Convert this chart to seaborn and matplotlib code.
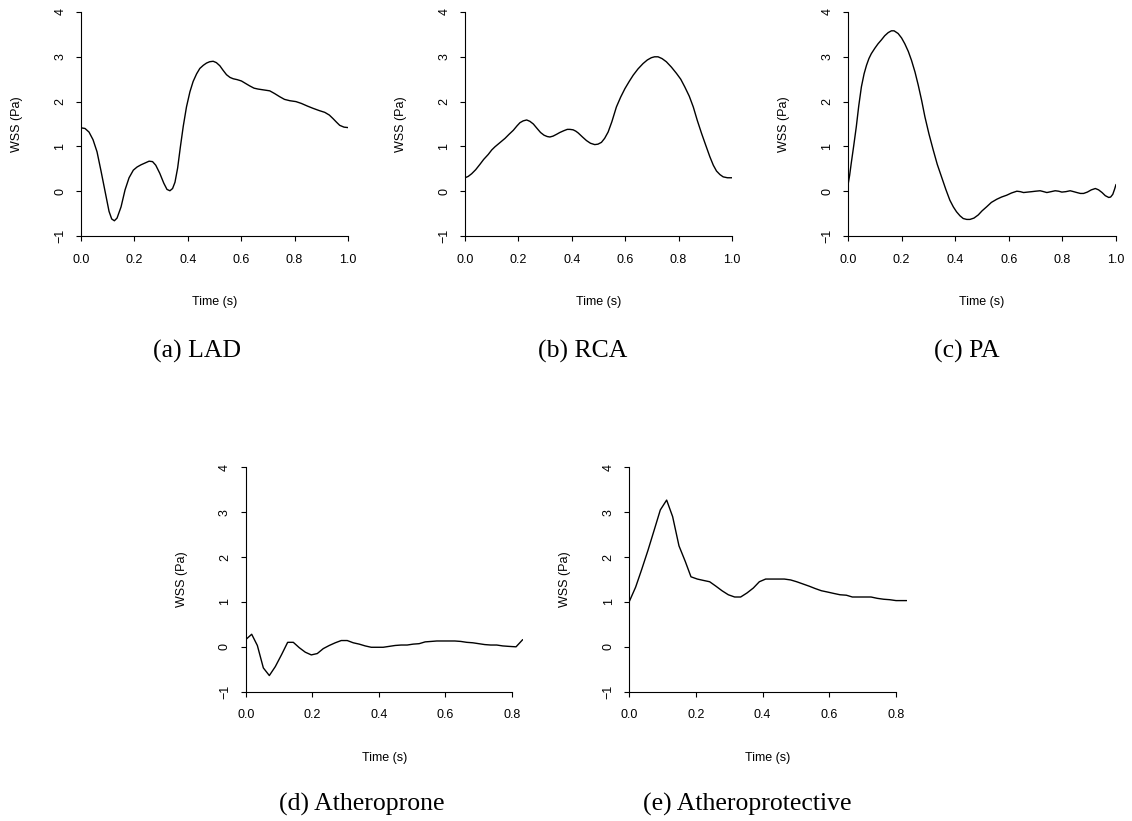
import matplotlib
matplotlib.use("Agg")
import matplotlib.pyplot as plt
import seaborn as sns
import pandas as pd

# Wall shear stress waveforms (time in s, WSS in Pa)
lad_t = [0.0, 0.015, 0.030, 0.045, 0.060, 0.075, 0.090, 0.105, 0.115, 0.125, 0.135,
         0.150, 0.165, 0.180, 0.196, 0.210, 0.225, 0.240, 0.255, 0.268, 0.280, 0.295,
         0.310, 0.322, 0.333, 0.343, 0.352, 0.362, 0.372, 0.383, 0.395, 0.408, 0.420,
         0.433, 0.445, 0.458, 0.470, 0.482, 0.495, 0.507, 0.520, 0.532, 0.545, 0.558,
         0.570, 0.585, 0.601, 0.615, 0.632, 0.648, 0.663, 0.685, 0.707, 0.725, 0.744,
         0.762, 0.782, 0.805, 0.825, 0.848, 0.869, 0.892, 0.913, 0.930, 0.944, 0.957,
         0.969, 0.985, 1.0]
lad_wss = [1.415, 1.40, 1.32, 1.15, 0.88, 0.45, 0.00, -0.45, -0.62, -0.66, -0.60,
           -0.35, 0.03, 0.30, 0.47, 0.54, 0.59, 0.63, 0.67, 0.66, 0.58, 0.40,
           0.18, 0.04, 0.01, 0.06, 0.20, 0.52, 0.98, 1.45, 1.88, 2.22, 2.45,
           2.62, 2.74, 2.81, 2.86, 2.89, 2.90, 2.87, 2.80, 2.70, 2.60, 2.54,
           2.51, 2.49, 2.46, 2.41, 2.35, 2.30, 2.28, 2.26, 2.24, 2.18, 2.11,
           2.05, 2.02, 2.00, 1.96, 1.90, 1.85, 1.80, 1.76, 1.70, 1.62, 1.54,
           1.47, 1.43, 1.42]

rca_t = [0.0, 0.012, 0.025, 0.040, 0.056, 0.070, 0.087, 0.100, 0.112, 0.130, 0.150,
         0.165, 0.181, 0.195, 0.206, 0.218, 0.231, 0.243, 0.256, 0.270, 0.283, 0.296,
         0.308, 0.318, 0.330, 0.343, 0.355, 0.370, 0.383, 0.393, 0.405, 0.415, 0.424,
         0.440, 0.455, 0.470, 0.486, 0.498, 0.511, 0.523, 0.536, 0.550, 0.567, 0.583,
         0.599, 0.615, 0.630, 0.648, 0.667, 0.683, 0.698, 0.710, 0.723, 0.738, 0.754,
         0.773, 0.792, 0.808, 0.823, 0.840, 0.855, 0.870, 0.886, 0.902, 0.917, 0.930,
         0.942, 0.955, 0.967, 0.983, 1.0]
rca_wss = [0.30, 0.33, 0.39, 0.48, 0.60, 0.71, 0.82, 0.92, 0.99, 1.08, 1.18,
           1.27, 1.36, 1.46, 1.53, 1.57, 1.59, 1.56, 1.50, 1.40, 1.31, 1.25,
           1.22, 1.21, 1.23, 1.27, 1.31, 1.35, 1.38, 1.38, 1.37, 1.34, 1.30,
           1.21, 1.13, 1.07, 1.04, 1.05, 1.09, 1.18, 1.32, 1.55, 1.88, 2.10,
           2.29, 2.45, 2.59, 2.73, 2.85, 2.93, 2.98, 3.00, 3.00, 2.96, 2.89,
           2.77, 2.63, 2.50, 2.33, 2.12, 1.88, 1.58, 1.29, 1.02, 0.77, 0.58,
           0.45, 0.37, 0.32, 0.30, 0.30]

pa_t = [0.0, 0.006, 0.012, 0.021, 0.031, 0.040, 0.050, 0.060, 0.069, 0.078, 0.087,
        0.100, 0.112, 0.125, 0.137, 0.150, 0.162, 0.172, 0.187, 0.200, 0.212, 0.225,
        0.237, 0.250, 0.262, 0.275, 0.287, 0.302, 0.318, 0.333, 0.349, 0.365, 0.380,
        0.393, 0.405, 0.418, 0.430, 0.443, 0.455, 0.470, 0.486, 0.500, 0.517, 0.535,
        0.555, 0.573, 0.592, 0.610, 0.630, 0.643, 0.655, 0.670, 0.686, 0.700, 0.717,
        0.730, 0.742, 0.758, 0.773, 0.786, 0.798, 0.813, 0.829, 0.842, 0.854, 0.867,
        0.879, 0.893, 0.908, 0.923, 0.935, 0.948, 0.960, 0.973, 0.980, 0.988, 0.995, 1.0]
pa_wss = [0.14, 0.35, 0.62, 1.00, 1.44, 1.90, 2.33, 2.62, 2.81, 2.96, 3.07,
          3.19, 3.29, 3.38, 3.47, 3.54, 3.58, 3.58, 3.52, 3.42, 3.29, 3.12,
          2.92, 2.66, 2.37, 2.02, 1.66, 1.28, 0.92, 0.60, 0.32, 0.04, -0.20,
          -0.35, -0.46, -0.55, -0.61, -0.63, -0.63, -0.60, -0.53, -0.44, -0.35, -0.25,
          -0.18, -0.13, -0.09, -0.04, 0.00, -0.01, -0.03, -0.02, -0.01, 0.00, 0.01,
          -0.01, -0.03, -0.01, 0.01, 0.00, -0.02, -0.01, 0.01, -0.01, -0.03, -0.05,
          -0.05, -0.02, 0.03, 0.06, 0.03, -0.03, -0.10, -0.14, -0.13, -0.07, 0.05, 0.15]

prone_t = [0.0, 0.018, 0.035, 0.053, 0.071, 0.089, 0.108, 0.126, 0.143, 0.161, 0.179,
           0.197, 0.215, 0.233, 0.251, 0.269, 0.287, 0.305, 0.323, 0.341, 0.359, 0.377,
           0.395, 0.413, 0.431, 0.449, 0.467, 0.485, 0.503, 0.521, 0.539, 0.557, 0.574,
           0.592, 0.610, 0.628, 0.646, 0.664, 0.682, 0.700, 0.718, 0.736, 0.754, 0.772,
           0.790, 0.812, 0.832]
prone_wss = [0.16, 0.28, 0.03, -0.47, -0.64, -0.44, -0.17, 0.10, 0.10, -0.02, -0.12,
             -0.18, -0.15, -0.04, 0.03, 0.09, 0.14, 0.14, 0.09, 0.06, 0.02, -0.01,
             -0.01, -0.01, 0.01, 0.03, 0.04, 0.04, 0.06, 0.07, 0.11, 0.12, 0.13,
             0.13, 0.13, 0.13, 0.12, 0.10, 0.09, 0.07, 0.05, 0.04, 0.04, 0.02,
             0.01, 0.00, 0.16]

protect_t = [0.0, 0.019, 0.037, 0.056, 0.075, 0.093, 0.112, 0.130, 0.149, 0.168, 0.185,
             0.204, 0.222, 0.241, 0.260, 0.278, 0.297, 0.316, 0.334, 0.353, 0.372, 0.390,
             0.409, 0.428, 0.446, 0.465, 0.484, 0.502, 0.521, 0.540, 0.557, 0.576, 0.595,
             0.613, 0.632, 0.651, 0.669, 0.688, 0.707, 0.725, 0.744, 0.763, 0.781, 0.800,
             0.819, 0.832]
protect_wss = [1.01, 1.33, 1.72, 2.15, 2.61, 3.05, 3.27, 2.90, 2.25, 1.90, 1.56,
               1.51, 1.48, 1.45, 1.35, 1.25, 1.16, 1.11, 1.11, 1.20, 1.31, 1.45,
               1.51, 1.51, 1.51, 1.51, 1.49, 1.45, 1.40, 1.35, 1.30, 1.25, 1.22,
               1.19, 1.16, 1.15, 1.11, 1.11, 1.11, 1.11, 1.08, 1.06, 1.05, 1.03,
               1.03, 1.03]

captions = ["(a) LAD", "(b) RCA", "(c) PA", "(d) Atheroprone", "(e) Atheroprotective"]
x_ticks_long = [0.0, 0.2, 0.4, 0.6, 0.8, 1.0]
x_ticks_short = [0.0, 0.2, 0.4, 0.6, 0.8]
y_ticks = [-1, 0, 1, 2, 3, 4]

sns.set_style("white")
plt.rcParams["font.family"] = ["Liberation Sans", "DejaVu Sans"]
plt.rcParams["text.color"] = "black"
plt.rcParams["axes.labelcolor"] = "black"
plt.rcParams["xtick.color"] = "black"
plt.rcParams["ytick.color"] = "black"

W, H = 1132, 821
fig = plt.figure(figsize=(W / 100, H / 100), dpi=100)

# panel boxes in pixels: left, right, top, bottom, x-limit, ticks, caption centre
panels = [
    (lad_t, lad_wss, 81, 348, 12, 236, 1.0, x_ticks_long, (197, 351)),
    (rca_t, rca_wss, 465, 732, 12, 236, 1.0, x_ticks_long, (583, 351)),
    (pa_t, pa_wss, 848, 1116, 12, 236, 1.0, x_ticks_long, (967, 351)),
    (prone_t, prone_wss, 245.7, 522.7, 467.3, 691.7, 0.832, x_ticks_short, (362, 804)),
    (protect_t, protect_wss, 629.3, 906.7, 467.3, 691.7, 0.832, x_ticks_short, (747, 804)),
]

for (t, w, l, r, top, bot, xmax, xt, cap), caption in zip(panels, captions):
    ax = fig.add_axes([l / W, 1 - bot / H, (r - l) / W, (bot - top) / H])
    df = pd.DataFrame({"Time (s)": t, "WSS (Pa)": w})
    sns.lineplot(data=df, x="Time (s)", y="WSS (Pa)", ax=ax, color="black",
                 linewidth=1.0, estimator=None, sort=False)
    ax.set_xlim(0, xmax)
    ax.set_ylim(-1, 4)
    ax.set_xticks(xt)
    ax.set_yticks(y_ticks)
    ax.set_xticklabels([f"{v:.1f}" for v in xt])
    ax.set_yticklabels([str(v).replace("-", "\u2212") for v in y_ticks])
    for side in ("top", "right"):
        ax.spines[side].set_visible(False)
    ax.spines["bottom"].set_bounds(xt[0], xt[-1])
    ax.spines["left"].set_bounds(-1, 4)
    for side in ("bottom", "left"):
        ax.spines[side].set_linewidth(0.8)
        ax.spines[side].set_color("black")
    ax.tick_params(axis="both", direction="out", length=3.6, width=0.8,
                   color="black", labelcolor="black", labelsize=9, pad=7,
                   bottom=True, left=True)
    ax.tick_params(axis="x", pad=9)
    ax.tick_params(axis="y", labelrotation=90)
    for lab in ax.get_yticklabels():
        lab.set_va("center")
    ax.set_xlabel("Time (s)", fontsize=9)
    ax.set_ylabel("WSS (Pa)", fontsize=9)
    hpx = bot - top
    wpx = r - l
    ax.xaxis.set_label_coords(0.5, -66 / hpx)
    ax.xaxis.label.set_va("center")
    ax.yaxis.set_label_coords(-64 / wpx, 0.5)
    ax.yaxis.label.set_va("center")
    ax.grid(False)
    fig.text(cap[0] / W, 1 - cap[1] / H, caption, ha="center", va="center",
             fontsize=18.5, color="black", family=["Liberation Serif", "DejaVu Serif"])

fig.savefig("out.png", dpi=100, facecolor="white")
